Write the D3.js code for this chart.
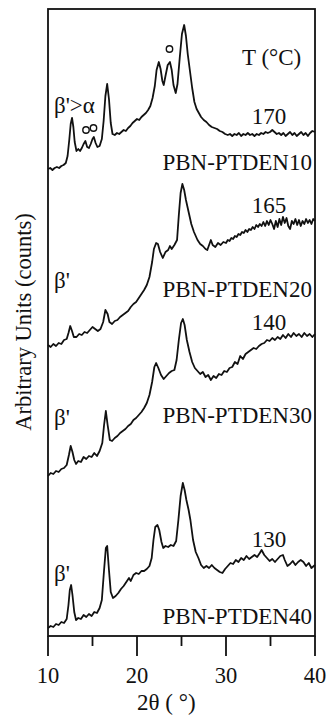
<!DOCTYPE html>
<html>
<head>
<meta charset="utf-8">
<script src="https://cdn.jsdelivr.net/npm/d3@7"></script>
<style>
  body { margin: 0; background: #fff; }
  text { font-family: "Liberation Serif", "Times New Roman", serif; fill: #111; }
  .curve { fill: none; stroke: #111; stroke-width: 1.8; stroke-linejoin: round; }
</style>
</head>
<body>
<div id="chart"></div>
<script>
// 2theta (deg) / intensity (arbitrary units, already stacked) for each sample
var pbn10 = [[10.0,467],[10.25,468],[10.5,466],[10.75,468],[11.0,469],[11.25,468],[11.5,470],[11.75,471],[12.0,473],[12.2,480],[12.4,497],[12.55,512],[12.7,518],[12.85,509],[13.0,494],[13.2,485],[13.4,487],[13.6,485],[13.8,488],[14.0,492],[14.2,495],[14.4,489],[14.6,488],[14.8,492],[15.0,497],[15.15,499],[15.35,493],[15.55,489],[15.8,490],[16.05,497],[16.25,515],[16.45,540],[16.65,552],[16.85,537],[17.05,513],[17.25,502],[17.5,501],[17.75,503],[18.0,502],[18.25,504],[18.5,506],[18.75,505],[19.0,508],[19.25,510],[19.5,513],[19.75,515],[20.0,517],[20.25,516],[20.5,519],[20.75,521],[21.0,523],[21.25,526],[21.5,530],[21.75,538],[22.0,550],[22.2,566],[22.45,574],[22.65,567],[22.85,555],[23.0,551],[23.2,560],[23.45,571],[23.7,574],[23.9,566],[24.1,551],[24.35,543],[24.55,552],[24.8,578],[25.05,602],[25.3,611],[25.5,600],[25.7,582],[25.95,565],[26.2,548],[26.45,534],[26.7,527],[26.95,523],[27.2,519],[27.5,516],[27.8,514],[28.1,511],[28.4,509],[28.7,508],[29.0,507],[29.3,505],[29.6,504],[29.9,502],[30.2,501],[30.45,502],[30.7,500],[30.95,502],[31.2,501],[31.45,503],[31.7,500],[31.95,502],[32.2,501],[32.45,503],[32.7,501],[32.95,502],[33.2,500],[33.45,502],[33.7,501],[33.95,503],[34.2,502],[34.45,504],[34.7,503],[34.95,504],[35.2,506],[35.45,504],[35.7,502],[35.95,503],[36.2,501],[36.45,503],[36.7,500],[36.95,502],[37.2,504],[37.45,501],[37.7,503],[37.95,500],[38.2,502],[38.45,504],[38.7,501],[38.95,503],[39.2,500],[39.45,503],[39.7,505],[40.0,504]];

var pbn20 = [[10.0,291],[10.3,289],[10.6,292],[10.9,290],[11.2,293],[11.5,292],[11.8,296],[12.1,297],[12.3,303],[12.5,310],[12.7,305],[12.9,299],[13.2,299],[13.5,302],[13.8,301],[14.1,304],[14.4,303],[14.7,306],[15.0,309],[15.3,307],[15.6,305],[15.9,307],[16.2,314],[16.45,326],[16.7,322],[16.9,314],[17.2,312],[17.5,315],[17.8,316],[18.1,319],[18.4,321],[18.7,323],[19.0,325],[19.3,329],[19.6,332],[19.9,334],[20.2,338],[20.5,342],[20.8,346],[21.1,351],[21.4,359],[21.7,374],[21.9,387],[22.15,393],[22.35,392],[22.6,384],[22.9,378],[23.2,384],[23.5,386],[23.7,390],[23.9,387],[24.2,391],[24.5,396],[24.7,421],[24.9,443],[25.1,452],[25.3,446],[25.5,436],[25.8,424],[26.1,412],[26.4,404],[26.8,396],[27.1,392],[27.4,390],[27.7,387],[27.9,386],[28.1,391],[28.3,396],[28.5,391],[28.8,389],[29.1,393],[29.4,391],[29.7,394],[30.0,393],[30.2,396],[30.4,395],[30.6,398],[30.8,397],[31.0,400],[31.2,399],[31.4,402],[31.6,401],[31.8,404],[32.0,403],[32.2,406],[32.4,404],[32.6,407],[32.8,406],[33.0,409],[33.2,407],[33.4,411],[33.6,409],[33.8,412],[34.0,410],[34.2,414],[34.4,410],[34.6,415],[34.8,411],[35.0,416],[35.2,412],[35.4,407],[35.6,415],[35.8,409],[36.0,417],[36.2,411],[36.4,419],[36.6,413],[36.8,418],[37.0,410],[37.2,407],[37.4,415],[37.6,412],[37.8,417],[38.0,411],[38.2,416],[38.4,410],[38.6,415],[38.8,412],[39.0,417],[39.2,413],[39.4,416],[39.6,412],[39.8,417],[40.0,415]];

var pbn30 = [[10.0,160],[10.3,163],[10.6,162],[10.9,165],[11.2,164],[11.5,167],[11.8,168],[12.1,171],[12.35,181],[12.55,190],[12.75,184],[12.95,176],[13.15,172],[13.4,175],[13.7,174],[14.0,179],[14.3,177],[14.6,180],[14.9,179],[15.2,183],[15.5,180],[15.8,185],[16.1,193],[16.3,211],[16.5,225],[16.7,211],[16.95,196],[17.2,195],[17.5,198],[17.8,200],[18.1,203],[18.4,205],[18.7,207],[19.0,210],[19.3,212],[19.6,216],[19.9,218],[20.2,221],[20.5,224],[20.8,228],[21.1,233],[21.4,241],[21.7,254],[21.95,269],[22.15,273],[22.4,268],[22.7,261],[23.0,257],[23.3,260],[23.6,263],[23.9,265],[24.2,266],[24.45,276],[24.7,296],[24.95,313],[25.15,317],[25.35,311],[25.6,296],[25.9,284],[26.2,274],[26.5,268],[26.8,265],[27.1,262],[27.4,264],[27.7,259],[28.0,261],[28.3,256],[28.6,260],[28.9,258],[29.2,262],[29.5,261],[29.8,265],[30.1,264],[30.4,268],[30.7,269],[31.0,274],[31.3,272],[31.6,280],[31.9,277],[32.2,282],[32.5,284],[32.8,286],[33.1,288],[33.4,287],[33.7,290],[34.0,292],[34.3,293],[34.6,296],[34.9,295],[35.2,298],[35.5,296],[35.8,299],[36.1,297],[36.4,301],[36.7,298],[37.0,302],[37.3,299],[37.6,303],[37.9,300],[38.2,302],[38.5,299],[38.8,303],[39.1,300],[39.4,302],[39.7,299],[40.0,302]];

var pbn40 = [[10.0,8],[10.3,10],[10.6,9],[10.9,12],[11.2,11],[11.5,14],[11.8,13],[12.1,17],[12.3,31],[12.45,46],[12.6,51],[12.75,41],[12.95,24],[13.15,16],[13.4,18],[13.7,17],[14.0,21],[14.3,19],[14.6,22],[14.9,20],[15.2,24],[15.5,23],[15.8,28],[16.05,36],[16.3,66],[16.5,88],[16.65,90],[16.85,66],[17.05,44],[17.3,38],[17.6,40],[17.9,43],[18.2,47],[18.5,50],[18.8,54],[19.1,58],[19.3,55],[19.6,61],[19.9,63],[20.2,62],[20.5,65],[20.8,65],[21.1,67],[21.4,70],[21.65,78],[21.85,96],[22.05,109],[22.3,111],[22.5,106],[22.75,94],[22.95,88],[23.2,90],[23.5,89],[23.8,91],[24.1,90],[24.4,95],[24.65,116],[24.9,140],[25.15,153],[25.35,146],[25.55,136],[25.8,126],[26.0,116],[26.3,96],[26.6,84],[26.9,78],[27.2,71],[27.5,68],[27.8,70],[28.1,68],[28.4,71],[28.7,68],[29.0,66],[29.3,64],[29.6,63],[29.9,67],[30.2,70],[30.5,73],[30.8,72],[31.1,76],[31.4,74],[31.7,78],[32.0,76],[32.3,80],[32.6,77],[32.9,79],[33.2,81],[33.5,79],[33.8,83],[34.0,86],[34.3,81],[34.6,78],[34.9,75],[35.2,77],[35.5,74],[35.8,77],[36.1,80],[36.4,81],[36.6,76],[36.9,70],[37.2,72],[37.5,75],[37.8,71],[38.1,74],[38.4,76],[38.7,74],[39.0,70],[39.3,73],[39.6,68],[40.0,71]];

var samples = ["PBN-PTDEN10", "PBN-PTDEN20", "PBN-PTDEN30", "PBN-PTDEN40"];
var temps = ["170", "165", "140", "130"];
var phases = ["\u03b2'>\u03b1", "\u03b2'", "\u03b2'", "\u03b2'"];
// 2theta of the peaks marked with a small circle (curve PBN-PTDEN10)
var circlePeaks = [14.27, 15.11, 23.65];
var xTicks = [10, 15, 20, 25, 30, 35, 40];

function XrdChart(){
    var self = this;
    self.init();
};

XrdChart.prototype.init = function(){
    var self = this;
    self.margin = {top: 9, right: 12, bottom: 80, left: 48};
    self.width = 327 - self.margin.left - self.margin.right;
    self.height = 716 - self.margin.top - self.margin.bottom;

    self.svg = d3.select("#chart").append("svg")
        .attr("width", 327)
        .attr("height", 716);

    self.g = self.svg.append("g")
        .attr("transform", "translate(" + self.margin.left + "," + self.margin.top + ")");

    self.x = d3.scaleLinear().domain([10, 40]).range([0, self.width]);
    self.y = d3.scaleLinear().domain([0, 627]).range([self.height, 0]);
};

XrdChart.prototype.update = function(){
    var self = this;
    var x = self.x, y = self.y;

    var line = d3.line()
        .x(function(d){ return x(d[0]); })
        .y(function(d){ return y(d[1]); });

    self.g.selectAll("path.curve")
        .data([pbn10, pbn20, pbn30, pbn40])
        .enter()
        .append("path")
        .attr("class", "curve")
        .attr("d", line);

    //frame
    self.g.append("rect")
        .attr("width", self.width)
        .attr("height", self.height)
        .attr("fill", "none")
        .attr("stroke", "#111")
        .attr("stroke-width", 1.8);

    //x ticks, long on the decades
    self.g.append("g").selectAll("line")
        .data(xTicks)
        .enter()
        .append("line")
        .attr("x1", function(d){ return x(d); })
        .attr("x2", function(d){ return x(d); })
        .attr("y1", self.height)
        .attr("y2", function(d){ return self.height + (d % 10 == 0 ? 20 : 10); })
        .attr("stroke", "#111")
        .attr("stroke-width", 1.8);

    self.g.append("g").selectAll("text")
        .data(xTicks.filter(function(d){ return d % 10 == 0; }))
        .enter()
        .append("text")
        .attr("x", function(d){ return x(d); })
        .attr("y", self.height + 47)
        .attr("text-anchor", "middle")
        .style("font-size", "22.5px")
        .text(function(d){ return d; });

    self.g.append("text")
        .attr("x", x(23.3))
        .attr("y", self.height + 74)
        .attr("text-anchor", "middle")
        .style("font-size", "23px")
        .text("2\u03b8 ( \u00b0)");

    self.svg.append("text")
        .attr("transform", "translate(31,322) rotate(-90)")
        .attr("text-anchor", "middle")
        .style("font-size", "22.5px")
        .text("Arbitrary Units (counts)");

    //labels, baselines given in intensity units
    var sampleY = [466, 339, 213, 12];
    var tempY = [512, 423, 306, 89];
    var phaseY = [523, 348, 211, 55];

    var labels = self.g.append("g").style("font-size", "23px");
    samples.forEach(function(s, i){
        labels.append("text").attr("x", x(39.66)).attr("y", y(sampleY[i]))
            .attr("text-anchor", "end").text(s);
        labels.append("text").attr("x", x(34.83)).attr("y", y(tempY[i]))
            .attr("text-anchor", "middle").text(temps[i]);
        labels.append("text").attr("x", x(10.67)).attr("y", y(phaseY[i]))
            .text(phases[i]);
    });
    labels.append("text").attr("x", x(31.8)).attr("y", y(571)).text("T (\u00b0C)");

    var circleY = [506, 508, 587];
    self.g.selectAll("circle")
        .data(circlePeaks)
        .enter()
        .append("circle")
        .attr("cx", function(d){ return x(d); })
        .attr("cy", function(d, i){ return y(circleY[i]); })
        .attr("r", 3.2)
        .attr("fill", "none")
        .attr("stroke", "#111")
        .attr("stroke-width", 1.4);
};

var chart = new XrdChart();
chart.update();
</script>
</body>
</html>
